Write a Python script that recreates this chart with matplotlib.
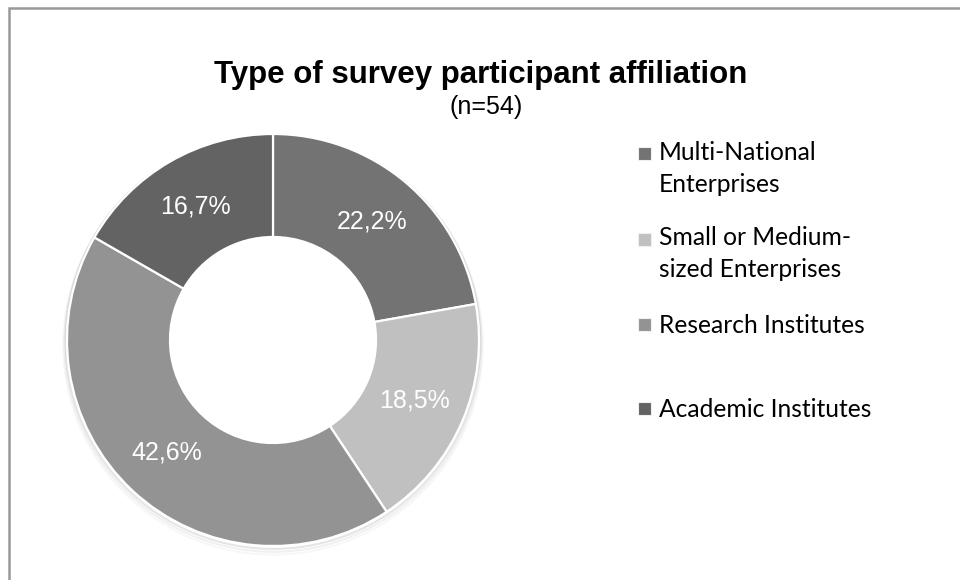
##########################################################################
# Donut chart: type of survey participant affiliation.
##########################################################################

# Load modules.
import matplotlib
matplotlib.use('Agg')                 # No display.
from matplotlib import pyplot as plt  # For plotting functions.
from matplotlib.patches import Rectangle,Circle  # Border, keys, shadow.

#-------------------------------
# DATA
#===============================

# Categories (legend labels).
categories=['Multi-National\nEnterprises','Small or Medium-\nsized Enterprises',
            'Research Institutes','Academic Institutes']
# Share of participants (percent).
shares=[22.2,18.5,42.6,16.7]
# Slice colours.
colors=['#737373','#c0c0c0','#939393','#636363']
# Title texts.
title_txt='Type of survey participant affiliation'
subtitle_txt='(n=54)'

#-------------------------------
# GENERATE PLOT
#===============================

# Figure size in pixels.
W,H=960,580
fig=plt.figure(figsize=(W/100,H/100),dpi=100)
fig.patch.set_facecolor('white')

# Helper: pixel coords (from top-left) to figure fraction.
def fx(px): return px/W
def fy(py): return 1-py/H

# Outer border of the chart area (runs off right and bottom edges).
fig.patches.append(Rectangle((fx(9),-0.1),1.2,fy(7.5)+0.1,fill=False,
  edgecolor='#999999',linewidth=1.8,transform=fig.transFigure,figure=fig))

# Donut axes: centre (273,340), radius 206 px.
cx,cy,r=273,340,206
ax=fig.add_axes([fx(cx-r),fy(cy+r),2*r/W,2*r/H])
# Faint shadow rings just outside the outer edge.
for k,a in enumerate([0.10,0.06,0.03]):
  ax.add_patch(Circle((0,-0.008*(k+1)),1.0+0.006*(k+1),fill=False,
    edgecolor='black',alpha=a,linewidth=1.5,zorder=0,clip_on=False))
# Percent formatter with decimal comma.
fmt=lambda p: ('%.1f%%' % p).replace('.',',')
wedges,texts,autotexts=ax.pie(shares,colors=colors,startangle=90,
  counterclock=False,radius=1.0,autopct=fmt,pctdistance=0.75,
  wedgeprops=dict(width=0.5,edgecolor='white',linewidth=1.6),
  textprops=dict(color='white',fontsize=18,family='Liberation Sans'))
# Make wedges draw above shadow.
for w in wedges: w.set_zorder(2); w.set_clip_on(False)
for t in autotexts: t.set_zorder(3)
ax.set_xlim(-1,1)
ax.set_ylim(-1,1)
ax.set_aspect('auto')
ax.axis('off')

# Title and subtitle.
fig.text(fx(481),fy(83),title_txt,ha='center',va='baseline',fontsize=22.5,
  fontweight='bold',family='Liberation Sans',color='black')
fig.text(fx(486),fy(114),subtitle_txt,ha='center',va='baseline',fontsize=18,
  family='Liberation Sans',color='black')

# Legend (drawn by hand to keep the reference spacing).
# Baseline of first line (key position) and of last line (text anchor).
key_base=[162,248,333,417]
last_base=[192,277,333,417]
for lab,col,yk,yb in zip(categories,colors,key_base,last_base):
  # Key square.
  fig.patches.append(Rectangle((fx(638),fy(yk-2)),13/W,13/H,facecolor=col,
    edgecolor='#f0f0f0',linewidth=0.8,transform=fig.transFigure,figure=fig))
  # Label text.
  fig.text(fx(659),fy(yb),lab,ha='left',va='baseline',fontsize=17.7,
    family='Lato',color='black',linespacing=1.45)

# Save plot.
fig.savefig('out.png',dpi=100,facecolor='white')
plt.close(fig)
